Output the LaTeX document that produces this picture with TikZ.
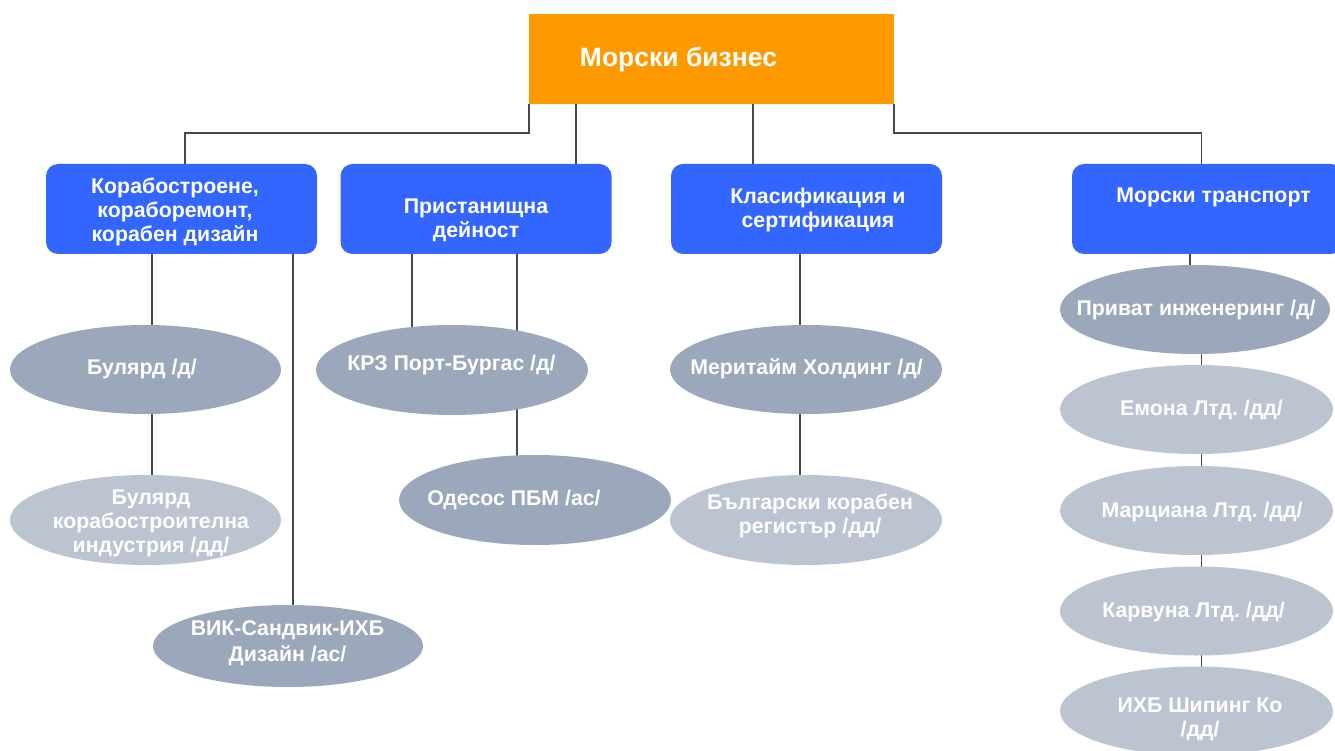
\documentclass[tikz,border=0pt]{standalone}
\usepackage{fontspec}
\setmainfont{Liberation Sans}
\usetikzlibrary{shapes.geometric,backgrounds}
\definecolor{orangeC}{HTML}{FF9900}
\definecolor{blueC}{HTML}{3366FF}
\definecolor{darkC}{HTML}{9BA7BA}
\definecolor{lightC}{HTML}{BCC4D2}
\definecolor{lineC}{HTML}{4A4A4A}
\frenchspacing
\begin{document}
\begin{tikzpicture}[x=1pt,y=-1pt,
  topbox/.style={rectangle, fill=orangeC, minimum width=365pt, minimum height=90pt, inner sep=0pt},
  bluebox/.style={rectangle, rounded corners=12pt, fill=blueC, minimum width=271pt, minimum height=90pt, inner sep=0pt},
  darkell/.style={ellipse, fill=darkC, minimum width=271pt, minimum height=89pt, inner sep=0pt},
  lightell/.style={ellipse, fill=lightC, minimum width=271pt, minimum height=89pt, inner sep=0pt},
  txt/.style={text=white, font=\fontsize{21.3}{24}\selectfont\bfseries, align=center, inner sep=0pt},
  toptxt/.style={text=white, font=\fontsize{26.5}{31}\selectfont\bfseries, inner sep=0pt},
  conn/.style={draw=lineC, line width=1.9pt}]
\useasboundingbox (0,0) rectangle (1335,751);

% shapes
\node[topbox] (top) at (711.5,59) {};
\node[bluebox] (b1) at (181.5,209) {};
\node[bluebox] (b2) at (476,209) {};
\node[bluebox] (b3) at (806.5,209) {};
\node[bluebox] (b4) at (1207.5,209) {};

\node[darkell]  (e1) at (145.5,369.5) {};
\node[lightell] (e2) at (145.5,520) [minimum height=90pt] {};
\node[darkell]  (e3) at (288,646) [minimum width=270pt, minimum height=82pt] {};
\node[darkell]  (e4) at (452,370) [minimum width=272pt, minimum height=90pt] {};
\node[darkell]  (e5) at (535,500) [minimum width=272pt, minimum height=90pt] {};
\node[darkell]  (e6) at (806,369.5) [minimum width=272pt] {};
\node[lightell] (e7) at (806,520) [minimum width=272pt, minimum height=90pt] {};
\node[darkell]  (e8) at (1195,309.5) [minimum width=270pt] {};
\node[lightell] (e9) at (1196.5,409.5) [minimum width=273pt] {};
\node[lightell] (e10) at (1196.5,510.5) [minimum width=273pt] {};
\node[lightell] (e11) at (1196.5,611) [minimum width=273pt] {};
\node[lightell] (e12) at (1196.5,711) [minimum width=273pt] {};

% texts
\node[toptxt, anchor=base] (ttop) at (678.5,66.7) {Морски бизнес};
\node[txt] (tb1) at (175,212) {Корабостроене,\\кораборемонт,\\корабен дизайн};
\node[txt] (tb2) at (476,220) {Пристанищна\\дейност};
\node[txt] (tb3) at (818,209.5) {Класификация и\\сертификация};
\node[txt, anchor=base] (tb4) at (1213.5,203) {Морски транспорт};

\node[txt, anchor=base] (te1) at (142,374) {Булярд /д/};
\node[txt] (te2) at (151,523) {Булярд\\корабостроителна\\индустрия /дд/};
\node[txt, font=\fontsize{21.3}{26.5}\selectfont\bfseries] (te3) at (287.5,643) {ВИК-Сандвик-ИХБ\\Дизайн /ас/};
\node[txt, anchor=base] (te4) at (451.5,370) {КРЗ Порт-Бургас /д/};
\node[txt, anchor=base] (te5) at (514,505) {Одесос ПБМ /ас/};
\node[txt, anchor=base] (te6) at (806.5,374) {Меритайм Холдинг /д/};
\node[txt] (te7) at (810,515.5) {Български корабен\\регистър /дд/};
\node[txt, anchor=base] (te8) at (1196,315) {Приват инженеринг /д/};
\node[txt, anchor=base] (te9) at (1201.5,415) {Емона Лтд. /дд/};
\node[txt, anchor=base] (te10) at (1202,517) {Марциана Лтд. /дд/};
\node[txt, anchor=base] (te11) at (1193.5,617) {Карвуна Лтд. /дд/};
\node[txt] (te12) at (1200,719.5) {ИХБ Шипинг Ко\\/дд/};

% connector x positions
\coordinate (k1) at (185,133);
\coordinate (k4) at (1201.5,133);
\coordinate (x2) at (576,0);
\coordinate (x3) at (753,0);
\coordinate (x5) at (152,0);
\coordinate (x7) at (293,0);
\coordinate (x8) at (411.7,0);
\coordinate (x9) at (517,0);
\coordinate (x10) at (800,0);
\coordinate (x11) at (1190,0);
\coordinate (x12) at (1201.5,0);

\begin{scope}[on background layer]
\fill[white] (0,0) rectangle (1335,751);
\draw[conn] (top.south west) |- (k1) -- (k1 |- b1.north);
\draw[conn] (top.south east) |- (k4) -- (k4 |- b4.north);
\draw[conn] (x2 |- top.south) -- (x2 |- b2.north);
\draw[conn] (x3 |- top.south) -- (x3 |- b3.north);
\draw[conn] (x5 |- b1.south) -- (x5 |- e1.center) -- (x5 |- e2.center);
\draw[conn] (x7 |- b1.south) -- (x7 |- e3.center);
\draw[conn] (x8 |- b2.south) -- (x8 |- e4.center);
\draw[conn] (x9 |- b2.south) -- (x9 |- e4.center) -- (x9 |- e5.center);
\draw[conn] (x10 |- b3.south) -- (x10 |- e6.center) -- (x10 |- e7.center);
\draw[conn] (x11 |- b4.south) -- (x11 |- e8.center);
\draw[conn] (x12 |- e8.center) -- (x12 |- e9.center) -- (x12 |- e10.center) -- (x12 |- e11.center) -- (x12 |- e12.center);
\end{scope}
\end{tikzpicture}
\end{document}
